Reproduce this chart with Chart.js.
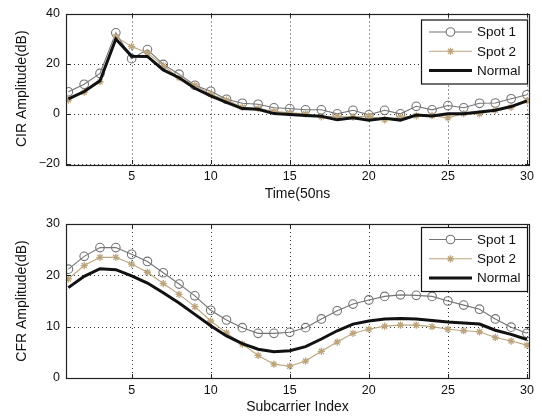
<!DOCTYPE html>
<html><head><meta charset="utf-8">
<script src="https://cdn.jsdelivr.net/npm/chart.js@4"></script>
<style>
html,body{margin:0;padding:0;background:#fff;width:542px;height:417px;overflow:hidden}
#c1{position:absolute;left:0;top:0}
#c2{position:absolute;left:0;top:210px}
</style></head><body>
<canvas id="c1" width="542" height="208"></canvas>
<canvas id="c2" width="542" height="207"></canvas>
<script>
const xIndex = Array.from({length:30},(_,i)=>i+1);
const seriesNames = ['Spot 1','Spot 2','Normal'];

const cirSpot1 = [8.8,11.8,16.1,32.3,22,25.6,19.7,15.8,11.4,9,5.8,4.2,3.8,2.4,2.1,1.6,1.6,0,1.4,-0.4,1.4,0,3,1.6,3.3,2.4,4.2,4.3,6,7.6];
const cirSpot2 = [5.5,8.6,12.8,30.8,26.8,24.3,19.2,14.4,11.4,7.8,5.5,2.6,2.1,1,0.4,0,-1.2,-1,-1.3,-0.9,-2.4,-1.4,-0.8,-0.7,-1.6,0.1,0,1.4,2.6,5.2];
const cirNormal = [6,8.9,13.2,29.8,23,22.9,17.5,14.4,10.2,7.2,4.6,2.1,1.8,0.1,-0.3,-0.7,-1,-2.4,-1.6,-2.6,-1.8,-2.5,-0.5,-0.9,0,0,0.7,1.4,2.9,5.2];

const cfrSpot1 = [21.2,23.7,25.4,25.4,24.1,22.7,20.5,18.3,16,13.2,11.3,9.8,8.7,8.7,8.9,9.8,11.5,13.1,14.4,15.2,15.9,16.2,16.1,15.9,15,14.2,13.4,11.5,9.9,8.7];
const cfrSpot2 = [19.3,21.9,23.5,23.5,22.2,20.6,18.4,16.3,13.9,11.1,8.8,6.6,4.4,2.7,2.3,3.3,5.2,7,8.7,9.5,10.1,10.3,10.3,10,9.5,9.2,9,7.9,7.2,6.4];
const cfrNormal = [17.6,19.8,21.3,21.1,19.9,18.5,16.6,14.6,12.4,10.2,8.2,6.7,5.6,5.1,5.3,6.1,7.6,9.2,10.5,11.1,11.5,11.6,11.5,11.2,10.9,10.7,10.5,9.3,8.5,7.5];

const xTicks = [5,10,15,20,25,30];
const cirYTicks = [-20,0,20,40];
const cfrYTicks = [0,10,20,30];

const FONT = '"Liberation Sans", Arial, Helvetica, sans-serif';
const GRAY = '#747474', TAN = '#bca47c', BLACK = '#111';

function makeDatasets(a,b,c){
  return [
    {label:seriesNames[0],data:a,borderColor:GRAY,backgroundColor:'rgba(0,0,0,0)',borderWidth:1.1,pointStyle:'circle',pointRadius:4.3,pointBorderWidth:1.1,pointBorderColor:GRAY,pointBackgroundColor:'rgba(0,0,0,0)',order:3,tension:0},
    {label:seriesNames[1],data:b,borderColor:TAN,backgroundColor:TAN,borderWidth:1.1,pointStyle:'star',pointRadius:3.6,pointBorderWidth:1.3,pointBorderColor:TAN,order:2,tension:0},
    {label:seriesNames[2],data:c,borderColor:BLACK,borderWidth:3,pointRadius:0,order:1,tension:0,borderJoinStyle:'miter'}
  ];
}

const frame = {
  id:'frame',
  beforeDatasetsDraw(chart, args, opts){
    const ctx = chart.ctx, a = chart.chartArea;
    const xs = chart.scales.x, ys = chart.scales.y;
    ctx.save();
    ctx.strokeStyle = '#333'; ctx.lineWidth = 1; ctx.setLineDash([1,3]);
    ctx.beginPath();
    opts.xt.forEach(v=>{const px=Math.round(xs.getPixelForValue(v))+0.5;ctx.moveTo(px,a.top);ctx.lineTo(px,a.bottom);});
    opts.yt.forEach(v=>{const py=Math.round(ys.getPixelForValue(v))+0.5;ctx.moveTo(a.left,py);ctx.lineTo(a.right,py);});
    ctx.stroke();
    ctx.restore();
  },
  afterDraw(chart, args, opts){
    const ctx = chart.ctx, a = chart.chartArea;
    const xs = chart.scales.x, ys = chart.scales.y;
    ctx.save();
    ctx.strokeStyle = '#222'; ctx.lineWidth = 1;
    ctx.beginPath();
    opts.xt.forEach(v=>{const px=Math.round(xs.getPixelForValue(v))+0.5;ctx.moveTo(px,a.bottom);ctx.lineTo(px,a.bottom-4);ctx.moveTo(px,a.top);ctx.lineTo(px,a.top+4);});
    opts.yt.forEach(v=>{const py=Math.round(ys.getPixelForValue(v))+0.5;ctx.moveTo(a.left,py);ctx.lineTo(a.left+4,py);ctx.moveTo(a.right,py);ctx.lineTo(a.right-4,py);});
    ctx.stroke();
    ctx.lineWidth = 1.2;
    ctx.strokeRect(Math.round(a.left)+0.5, Math.round(a.top)+0.5, Math.round(a.right-a.left), Math.round(a.bottom-a.top));
    // legend
    const bx = 421, by = a.top + opts.legOff, bw = 106, bh = 64;
    ctx.fillStyle = '#fff'; ctx.fillRect(bx,by,bw,bh);
    ctx.strokeStyle = '#111'; ctx.lineWidth = 1.2; ctx.strokeRect(bx+0.5,by+0.5,bw,bh);
    const dsets = chart.data.datasets;
    ctx.font = '13.5px ' + FONT; ctx.textBaseline = 'middle'; ctx.textAlign='left';
    dsets.forEach((d,i)=>{
      const y = by + 12.5 + i*19.3;
      ctx.strokeStyle = d.borderColor; ctx.lineWidth = d.borderWidth;
      ctx.beginPath(); ctx.moveTo(bx+8,y); ctx.lineTo(bx+51,y); ctx.stroke();
      if (d.pointRadius>0){
        ctx.lineWidth = d.pointBorderWidth;
        ctx.fillStyle = d.pointStyle==='circle' ? '#fff' : d.borderColor;
        ctx.strokeStyle = d.borderColor;
        if (d.pointStyle==='circle'){ctx.beginPath();ctx.arc(bx+29.5,y,d.pointRadius,0,Math.PI*2);ctx.fill();ctx.stroke();}
        else {Chart.helpers.drawPoint(ctx,{pointStyle:d.pointStyle,radius:d.pointRadius,rotation:0,borderWidth:d.pointBorderWidth},bx+29.5,y);}
      }
      ctx.fillStyle = '#111';
      ctx.fillText(d.label, bx+56, y+0.5);
    });
    ctx.restore();
  }
};

function makeChart(id, datasets, yt, xTitle, yTitle, padTop, xAxisH, titleBottom, legOff){
  const minus = v => String(v).replace('-', '\u2212');
  return new Chart(document.getElementById(id), {
    type:'line',
    data:{labels:xIndex, datasets},
    options:{
      responsive:false, animation:false, devicePixelRatio:1,
      layout:{padding:{top:padTop,right:13,left:0,bottom:0}},
      plugins:{legend:{display:false},tooltip:{enabled:false},frame:{xt:xTicks,yt:yt,legOff:legOff}},
      elements:{line:{fill:false}},
      scales:{
        x:{type:'linear',min:0.85,max:30.13,
          afterBuildTicks:s=>{s.ticks = xTicks.map(v=>({value:v}));},
          afterFit:s=>{s.height = xAxisH;},
          grid:{display:false,drawTicks:false},
          border:{display:false},
          ticks:{color:'#111',font:{family:FONT,size:12.5},padding:5,maxRotation:0,autoSkip:false},
          title:{display:true,text:xTitle,color:'#111',font:{family:FONT,size:14},padding:{top:0,bottom:titleBottom}}
        },
        y:{type:'linear',min:yt[0],max:yt[yt.length-1],
          afterBuildTicks:s=>{s.ticks = yt.map(v=>({value:v}));},
          afterFit:s=>{s.width = 66;},
          grid:{display:false,drawTicks:false},
          border:{display:false},
          ticks:{color:'#111',font:{family:FONT,size:12.5},padding:6,callback:v=>minus(v)},
          title:{display:true,text:yTitle,color:'#111',font:{family:FONT,size:14},padding:{top:13.5,bottom:0}}
        }
      }
    },
    plugins:[frame]
  });
}
const c1 = makeChart('c1', makeDatasets(cirSpot1,cirSpot2,cirNormal), cirYTicks, 'Time(50ns', 'CIR Amplitude(dB)', 10, 44, 5.6, 6);
const c2 = makeChart('c2', makeDatasets(cfrSpot1,cfrSpot2,cfrNormal), cfrYTicks, 'Subcarrier Index', 'CFR Amplitude(dB)', 14, 39, 1.6, 3);
</script>
</body></html>
